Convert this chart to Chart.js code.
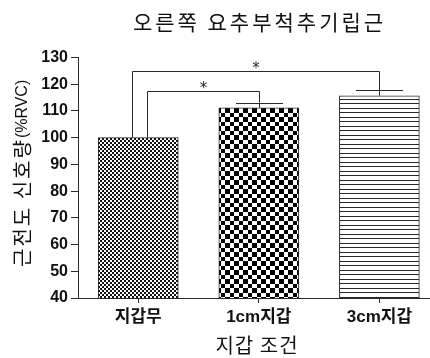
<!DOCTYPE html>
<html>
<head>
<meta charset="utf-8">
<script src="https://cdn.jsdelivr.net/npm/chart.js@4.4.1/dist/chart.umd.min.js"></script>
<style>
  html, body { margin: 0; padding: 0; background: #fff; }
  canvas { display: block; }
</style>
</head>
<body>
<canvas id="c" width="430" height="358"></canvas>
<script>
// Conditions and measured values
const categories = ['지갑무', '1cm지갑', '3cm지갑'];
const values = [100, 111.2, 115.7];        // %RVC
const errors = [0, 1.9, 2.1];              // upper SD bar
const yTicks = [40, 50, 60, 70, 80, 90, 100, 110, 120, 130];

// Significance brackets: from bar, to bar, bracket level (%RVC), mark
const sigFrom = [0, 0];
const sigTo = [1, 2];
const sigLevel = [117.6, 125.1];
const sigMark = ['*', '*'];

const chartTitle = '오른쪽 요추부척추기립근';
const yTitleKo = '근전도 신호량';
const yTitleUnit = '(%RVC)';
const xTitle = '지갑 조건';

const INK = '#2a2a2a';
const KO = "'Noto Sans CJK KR', sans-serif";
const LAT = "'Liberation Sans', Arial, 'Noto Sans CJK KR', sans-serif";

const canvas = document.getElementById('c');
const ctx = canvas.getContext('2d');

function makePattern(w, h, paint) {
  const c = document.createElement('canvas');
  c.width = w; c.height = h;
  const g = c.getContext('2d');
  g.fillStyle = '#fff';
  g.fillRect(0, 0, w, h);
  paint(g);
  return ctx.createPattern(c, 'repeat');
}

// fine checkerboard, coarse checkerboard, horizontal stripes
const fills = [
  makePattern(4, 4, g => { g.fillStyle = '#111'; g.fillRect(0, 0, 2, 2); g.fillRect(2, 2, 2, 2); }),
  makePattern(9, 9, g => { g.fillStyle = '#000'; g.fillRect(0, 0, 5, 5); g.fillRect(5, 5, 4, 4); }),
  makePattern(1, 9, g => { g.fillStyle = '#2a2a2a'; g.fillRect(0, 0, 1, 1); g.fillRect(0, 4, 1, 1); })
];

const decorations = {
  id: 'decorations',
  afterDatasetsDraw(chart) {
    const c = chart.ctx;
    const xs = chart.scales.x, ys = chart.scales.y;
    c.save();
    c.strokeStyle = INK;
    c.lineWidth = 1;

    // upper error bars
    const capHalf = 23.5;
    values.forEach((v, i) => {
      if (!errors[i]) return;
      const x = Math.round(xs.getPixelForValue(i)) + 0.5;
      const yTop = ys.getPixelForValue(v);
      const yCap = Math.round(ys.getPixelForValue(v + errors[i])) + 0.5;
      c.beginPath();
      c.moveTo(x, yTop); c.lineTo(x, yCap);
      c.moveTo(x - capHalf, yCap); c.lineTo(x + capHalf, yCap);
      c.stroke();
    });

    // significance brackets
    const leftShift = [9, -6];
    sigFrom.forEach((a, k) => {
      const b = sigTo[k];
      const xa = Math.round(xs.getPixelForValue(a) + leftShift[k]) + 0.5;
      const xb = Math.round(xs.getPixelForValue(b)) + 0.5;
      const ya = ys.getPixelForValue(values[a] + errors[a]);
      const yb = ys.getPixelForValue(values[b] + errors[b]);
      const yl = Math.round(ys.getPixelForValue(sigLevel[k])) + 0.5;
      c.beginPath();
      c.moveTo(xa, ya); c.lineTo(xa, yl); c.lineTo(xb, yl); c.lineTo(xb, yb);
      c.stroke();
      c.fillStyle = INK;
      c.font = "15px 'DejaVu Sans'";
      c.textAlign = 'center';
      c.textBaseline = 'alphabetic';
      c.fillText(sigMark[k], (xa + xb) / 2, yl - 7 + 8.4);
    });
    c.restore();
  },
  afterDraw(chart) {
    const c = chart.ctx;
    const area = chart.chartArea;
    c.save();
    c.fillStyle = '#111';
    c.textBaseline = 'middle';

    // chart title
    c.font = '21px ' + KO;
    c.letterSpacing = '3px';
    c.textAlign = 'left';
    const tw = c.measureText(chartTitle).width - 3;
    c.fillText(chartTitle, 258 - tw / 2, 22);

    // y axis title, rotated
    c.save();
    c.translate(22.5, 267);
    c.rotate(-Math.PI / 2);
    c.font = '20px ' + KO;
    c.letterSpacing = '2px';
    c.fillText(yTitleKo, 0, 0);
    const kw = c.measureText(yTitleKo).width;
    c.letterSpacing = '0px';
    c.font = '16px ' + LAT;
    c.fillText(yTitleUnit, kw, 0);
    c.restore();

    // x axis title
    c.font = '20px ' + KO;
    c.letterSpacing = '1px';
    c.textAlign = 'center';
    c.fillText(xTitle, (area.left + area.right) / 2 + 3, 345);
    c.restore();
  }
};

new Chart(ctx, {
  type: 'bar',
  data: {
    datasets: [{
      data: values.map((v, i) => ({ x: i, y: v })),
      backgroundColor: fills,
      borderColor: INK,
      borderWidth: 1,
      barThickness: 80
    }]
  },
  options: {
    responsive: false,
    animation: false,
    layout: { padding: { top: 57.5, right: 0, left: 0, bottom: 0 } },
    plugins: { legend: { display: false }, tooltip: { enabled: false }, title: { display: false } },
    scales: {
      x: {
        type: 'linear',
        offset: false,
        min: -0.5,
        max: 2.42,
        afterBuildTicks: s => { s.ticks = categories.map((_, i) => ({ value: i })); },
        afterFit: s => { s.height = 60; },
        ticks: {
          callback: v => categories[v],
          color: '#111',
          font: { family: LAT, size: 17, weight: 'bold' },
          padding: 4,
          maxRotation: 0,
          autoSkip: false
        },
        grid: { offset: false, drawOnChartArea: false, drawTicks: true, tickLength: 5, color: INK },
        border: { display: true, color: INK, width: 1 }
      },
      y: {
        min: yTicks[0],
        max: yTicks[yTicks.length - 1],
        afterBuildTicks: s => { s.ticks = yTicks.map(v => ({ value: v })); },
        afterFit: s => { s.width = 78; },
        ticks: {
          color: '#111',
          font: { family: LAT, size: 16, weight: 'bold' },
          padding: 3
        },
        grid: { drawOnChartArea: false, drawTicks: true, tickLength: 7, color: INK },
        border: { display: true, color: INK, width: 1 }
      }
    }
  },
  plugins: [decorations]
});
</script>
</body>
</html>
